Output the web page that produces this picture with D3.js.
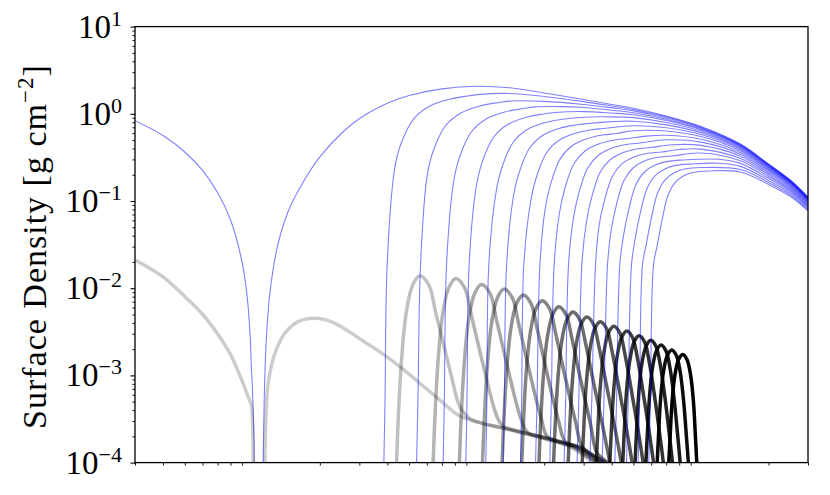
<!DOCTYPE html>
<html><head><meta charset="utf-8">
<script src="https://cdn.jsdelivr.net/npm/d3@7"></script>
<style>body{margin:0;background:#fff}svg{display:block}</style>
</head><body>
<svg id="c" width="830" height="495"></svg>
<script>
// ---- axis data ----
const xDomain=[0.3,300];
const yDomain=[1e-4,10];
const yTickExponents=[-4,-3,-2,-1,0,1];
const yLabelText="Surface Density [g cm";
const yLabelExp="\u22122";

// ---- gas surface density (blue), [radius, sigma] ----
const gas01=[[0.3,0.833],[0.4,0.564],[0.5,0.365],[0.6,0.224],[0.7,0.125],[0.8,0.0605],[0.9,0.020],[0.95,0.0077],[0.98,0.0026],[0.99,0.0013],[1.0,7.8e-4],[1.01,3.5e-4],[1.018,1.8e-4],[1.02,1e-4],null,
 [1.118,1e-4],[1.13,5.2e-4],[1.15,0.00212],[1.2,0.00921],[1.3,0.0316],[1.4,0.0609],[1.5,0.0946],[1.7,0.171],[2,0.320],[2.5,0.598],[3,0.879],[4,1.32],[5,1.62],[7,1.93],[10,2.07],[14,1.99],[20,1.73],[30,1.46],[40,1.28],[50,1.16],[70,0.944],[100,0.715],[150,0.45],[200,0.266],[250,0.174],[300,0.111]];
const gas02=[[3.859,1e-4],[3.905,5.2e-4],[3.992,0.0185],[4.307,0.231],[4.590,0.447],[5.223,0.865],[6.155,1.22],[7.558,1.47],[9.279,1.61],[10.33,1.67],[14,1.71],[20,1.58],[30,1.38],[40,1.23],[50,1.12],[70,0.923],[100,0.703],[150,0.444],[200,0.263],[250,0.172],[300,0.110]];
const gas03=[[5.397,1e-4],[5.475,5.2e-4],[5.623,0.0185],[6.014,0.193],[6.403,0.374],[7.256,0.725],[8.501,1.02],[10.36,1.23],[12.64,1.35],[14.13,1.40],[20,1.39],[30,1.28],[40,1.17],[50,1.08],[70,0.897],[100,0.689],[150,0.437],[200,0.260],[250,0.170],[300,0.109]];
const gas04=[[7.091,1e-4],[7.178,5.2e-4],[7.343,0.0185],[7.890,0.165],[8.393,0.320],[9.470,0.619],[11.03,0.871],[13.35,1.05],[16.17,1.15],[18.16,1.20],[24,1.21],[30,1.18],[40,1.10],[50,1.03],[70,0.868],[100,0.673],[150,0.431],[200,0.256],[250,0.168],[300,0.1076]];
const gas05=[[8.951,1e-4],[9.058,5.2e-4],[9.259,0.0185],[9.945,0.143],[10.57,0.276],[11.87,0.535],[13.75,0.753],[16.51,0.907],[19.87,0.995],[22.41,1.035],[30,1.06],[40,1.02],[50,0.975],[70,0.836],[100,0.656],[150,0.423],[200,0.252],[250,0.166],[300,0.106]];
const gas06=[[10.99,1e-4],[11.11,5.2e-4],[11.33,0.0185],[12.19,0.1235],[12.94,0.239],[14.48,0.463],[16.67,0.652],[19.88,0.784],[23.76,0.860],[26.90,0.895],[32,0.92],[40,0.923],[50,0.903],[70,0.795],[100,0.634],[150,0.413],[200,0.248],[250,0.164],[300,0.105]];
const gas07=[[13.13,1e-4],[13.29,5.2e-4],[13.60,0.0185],[14.54,0.1068],[15.43,0.207],[17.18,0.400],[19.67,0.563],[23.28,0.678],[27.63,0.744],[31.43,0.774],[40,0.813],[50,0.821],[70,0.747],[100,0.608],[150,0.402],[200,0.243],[250,0.161],[300,0.103]];
const gas08=[[15.69,1e-4],[15.88,5.2e-4],[16.23,0.0185],[17.35,0.0936],[18.39,0.181],[20.40,0.351],[23.22,0.494],[27.27,0.594],[32.16,0.652],[36.72,0.678],[50,0.729],[70,0.691],[100,0.579],[150,0.390],[200,0.237],[250,0.158],[300,0.1016]];
const gas09=[[18.31,1e-4],[18.59,5.2e-4],[19.14,0.0185],[20.22,0.0821],[21.41,0.159],[23.64,0.308],[26.76,0.433],[31.20,0.521],[36.54,0.572],[41.91,0.595],[50,0.640],[70,0.635],[100,0.548],[150,0.376],[200,0.231],[250,0.154],[300,0.0997]];
const gas10=[[21.20,1e-4],[21.53,5.2e-4],[22.16,0.0185],[23.38,0.0719],[24.73,0.139],[27.19,0.269],[30.60,0.379],[35.41,0.456],[41.20,0.501],[47.44,0.521],[57,0.555],[70,0.567],[100,0.510],[150,0.360],[200,0.224],[250,0.150],[300,0.0976]];
const gas11=[[24.55,1e-4],[24.94,5.2e-4],[25.68,0.0185],[27.03,0.0639],[28.57,0.124],[31.27,0.239],[34.99,0.337],[40.20,0.406],[46.46,0.445],[53.72,0.463],[70,0.503],[100,0.473],[150,0.344],[200,0.216],[250,0.146],[300,0.0954]];
const gas12=[[28.05,1e-4],[28.53,5.2e-4],[29.44,0.0185],[30.84,0.0567],[32.56,0.110],[35.49,0.212],[39.48,0.299],[45.03,0.360],[51.69,0.395],[60.02,0.411],[75,0.442],[100,0.434],[150,0.327],[200,0.2085],[250,0.142],[300,0.0931]];
const gas13=[[31.95,1e-4],[32.61,5.2e-4],[33.88,0.0185],[35.07,0.0504],[37.00,0.0975],[40.16,0.189],[44.41,0.266],[50.28,0.320],[57.33,0.351],[66.85,0.365],[80,0.389],[100,0.393],[150,0.307],[200,0.200],[250,0.137],[300,0.0905]];
const gas14=[[36.25,1e-4],[36.96,5.2e-4],[38.32,0.0185],[39.73,0.0453],[41.87,0.0876],[45.26,0.170],[49.77,0.239],[55.92,0.287],[63.34,0.315],[74.16,0.328],[100,0.355],[150,0.289],[200,0.191],[250,0.133],[300,0.0880]];
const gas15=[[41.30,1e-4],[42.05,5.2e-4],[43.48,0.0185],[45.20,0.0407],[47.59,0.0788],[51.22,0.153],[55.99,0.215],[62.46,0.258],[70.26,0.283],[82.60,0.295],[120,0.301],[150,0.270],[200,0.182],[250,0.128],[300,0.0853]];
const gas16=[[46.56,1e-4],[47.40,5.2e-4],[49.01,0.0185],[50.88,0.0367],[53.52,0.0710],[57.35,0.1375],[62.34,0.194],[69.03,0.233],[77.13,0.256],[91.07,0.266],[120,0.271],[150,0.2495],[200,0.172],[250,0.1226],[300,0.0824]];
const gas17=[[52.45,1e-4],[53.28,5.2e-4],[54.87,0.0185],[57.23,0.0334],[60.14,0.0646],[64.17,0.125],[69.35,0.176],[76.23,0.212],[84.60,0.233],[100.3,0.242],[150,0.230],[200,0.163],[250,0.1174],[300,0.0795]];
const gas18=[[58.53,1e-4],[59.53,5.2e-4],[61.42,0.0185],[63.77,0.0305],[66.95,0.0590],[71.13,0.114],[76.42,0.161],[83.39,0.194],[91.93,0.212],[109.5,0.221],[150,0.215],[200,0.155],[250,0.113],[300,0.0771]];

// ---- dust surface density (grey), [radius, sigma] ----
const dust01=[[0.3,0.0211],[0.4,0.0135],[0.5,0.00803],[0.6,0.00503],[0.7,0.0030],[0.8,0.00173],[0.9,8.7e-4],[0.95,6.0e-4],[0.99,4.6e-4],[1.0,3.5e-4],[1.009,1e-4],null,
 [1.138,1e-4],[1.150,3.36e-4],[1.177,8.12e-4],[1.261,1.79e-3],[1.397,3.04e-3],[1.601,4.13e-3],[1.934,4.52e-3],[2.334,3.96e-3],[3.070,2.55e-3],[3.704,1.86e-3],[4.548,1.26e-3],[5.583,8.12e-4],[6.855,5.22e-4],[8.416,3.42e-4],[10.33,2.87e-4],[13.13,2.47e-4],[16.12,2.17e-4],[18.49,1.98e-4],[26.02,1.52e-4],[31.95,1.07e-4],[33.30,1e-4]];
const dust02=[[4.395,1e-4],[4.478,3.43e-4],[4.627,0.00151],[4.851,0.00518],[5.186,0.01087],[5.583,0.01391],[6.124,0.01087],[6.578,0.00518],[7.404,0.00151],[7.730,9.66e-4],[8.416,4.38e-4],[9.326,3.20e-4],[10.55,2.83e-4],[13.40,2.47e-4],[16.45,2.17e-4],[18.88,1.98e-4],[26.56,1.52e-4],[32.61,1.07e-4],[33.98,1e-4]];
const dust03=[[6.40,1e-4],[6.52,3.38e-4],[6.73,0.00145],[7.047,0.00490],[7.519,0.01016],[8.078,0.01296],[8.834,0.01016],[9.471,0.00490],[10.60,0.00145],[12.32,3.38e-4],[13.15,2.59e-4],[14.80,2.35e-4],[16.80,2.17e-4],[19.26,1.98e-4],[27.11,1.52e-4],[33.29,1.07e-4],[34.70,1e-4]];
const dust04=[[8.383,1e-4],[8.53,3.24e-4],[8.80,0.00133],[9.204,0.00431],[9.806,0.00874],[10.51,0.01105],[11.47,0.00874],[12.27,0.00431],[13.65,0.00133],[15.72,3.24e-4],[16.91,2.21e-4],[19.66,1.98e-4],[27.67,1.52e-4],[33.98,1.07e-4],[35.41,1e-4]];
const dust05=[[10.62,1e-4],[10.82,3.15e-4],[11.15,0.00124],[11.65,0.00391],[12.38,0.00779],[13.26,0.00979],[14.41,0.00779],[15.39,0.00391],[17.03,0.00124],[19.45,3.15e-4],[20.77,1.96e-4],[28.24,1.52e-4],[34.68,1.07e-4],[36.15,1e-4]];
const dust06=[[12.99,1e-4],[13.22,3.02e-4],[13.62,0.00114],[14.21,0.00345],[15.08,0.00670],[16.12,0.00836],[17.46,0.00670],[18.61,0.00345],[20.46,0.00114],[23.17,3.02e-4],[24.97,1.70e-4],[28.83,1.52e-4],[35.40,1.07e-4],[36.90,1e-4]];
const dust07=[[15.89,1e-4],[16.17,2.91e-4],[16.62,0.00105],[17.34,0.00306],[18.36,0.00581],[19.58,0.00719],[21.15,0.00581],[22.49,0.00306],[24.62,0.00105],[27.62,2.91e-4],[29.74,1.49e-4],[36.14,1.07e-4],[37.66,1e-4]];
const dust08=[[18.97,1e-4],[19.28,2.80e-4],[19.83,9.62e-4],[20.64,0.00269],[21.83,0.00499],[23.24,0.00613],[25.02,0.00499],[26.56,0.00269],[28.89,9.62e-4],[32.14,2.80e-4],[34.34,1.29e-4],[36.88,1.08e-4],[38.43,1e-4]];
const dust09=[[22.03,1e-4],[22.40,2.70e-4],[23.01,8.91e-4],[23.92,0.00241],[25.26,0.00437],[26.84,0.00533],[28.80,0.00437],[30.51,0.00241],[33.02,8.91e-4],[36.39,2.70e-4],[39.26,1e-4]];
const dust10=[[25.59,1e-4],[26.01,2.61e-4],[26.69,8.28e-4],[27.72,0.00217],[29.21,0.00386],[30.98,0.00467],[33.17,0.00386],[35.04,0.00217],[37.71,8.28e-4],[41.21,2.61e-4],[44.16,1e-4]];
const dust11=[[29.55,1e-4],[30.04,2.54e-4],[30.79,7.74e-4],[31.95,0.00196],[33.60,0.00343],[35.59,0.00413],[38.0,0.00343],[40.04,0.00196],[42.85,7.74e-4],[46.42,2.54e-4],[49.36,1e-4]];
const dust12=[[34.16,1e-4],[34.73,2.46e-4],[35.55,7.25e-4],[36.85,0.00178],[38.67,0.00306],[40.87,0.00367],[43.51,0.00306],[45.76,0.00178],[48.71,7.25e-4],[52.29,2.46e-4],[55.26,1e-4]];
const dust13=[[39.26,1e-4],[39.87,2.38e-4],[40.83,6.76e-4],[42.24,0.00161],[44.29,0.00272],[46.70,0.00323],[49.56,0.00272],[52.02,0.00161],[55.03,6.76e-4],[58.59,2.38e-4],[61.49,1e-4]];
const dust14=[[44.82,1e-4],[45.52,2.31e-4],[46.52,6.31e-4],[48.12,0.00146],[50.34,0.00241],[52.99,0.00284],[56.07,0.00241],[58.71,0.00146],[61.80,6.31e-4],[65.19,2.31e-4],[67.98,1e-4]];
const dust15=[[50.85,1e-4],[51.60,2.24e-4],[52.72,5.91e-4],[54.41,0.00132],[56.87,0.00215],[59.74,0.00253],[63.03,0.00215],[65.86,0.00132],[68.89,5.91e-4],[72.08,2.24e-4],[74.64,1e-4]];
const dust16=[[56.82,1e-4],[57.69,2.17e-4],[58.90,5.52e-4],[60.73,0.00120],[63.28,0.00191],[66.41,0.00223],[69.82,0.00191],[72.83,0.00120],[75.81,5.52e-4],[78.59,2.17e-4],[80.78,1e-4]];
const dust17=[[63.80,1e-4],[64.71,2.10e-4],[65.99,5.13e-4],[67.98,0.00108],[70.77,0.00169],[74.11,0.00196],[77.70,0.00169],[80.87,0.00108],[83.66,5.13e-4],[86.00,2.10e-4],[87.88,1e-4]];
const dust18=[[71.86,1e-4],[72.90,2.04e-4],[74.27,4.81e-4],[76.42,9.81e-4],[79.39,0.00151],[82.98,0.00174],[86.70,0.00151],[90.05,9.81e-4],[92.68,4.81e-4],[94.41,2.04e-4],[95.79,1e-4]];

const gasSeries=[gas01,gas02,gas03,gas04,gas05,gas06,gas07,gas08,gas09,gas10,gas11,gas12,gas13,gas14,gas15,gas16,gas17,gas18];
const dustSeries=[dust01,dust02,dust03,dust04,dust05,dust06,dust07,dust08,dust09,dust10,dust11,dust12,dust13,dust14,dust15,dust16,dust17,dust18];

// ---- drawing ----
const svg=d3.select("#c");
const L=135,R=808,T=26.6,B=462.6;
const x=d3.scaleLog().domain(xDomain).range([L,R]);
const y=d3.scaleLog().domain(yDomain).range([B,T]);

svg.append("defs").append("clipPath").attr("id","clip")
  .append("rect").attr("x",L).attr("y",T).attr("width",R-L).attr("height",B-T);

const line=d3.line().defined(d=>d!==null).x(d=>x(d[0])).y(d=>y(d[1])).curve(d3.curveCatmullRom.alpha(0.5));
const plot=svg.append("g").attr("clip-path","url(#clip)");
const n=gasSeries.length;
gasSeries.forEach((gs,i)=>{
  plot.append("path").attr("d",line(gs)).attr("fill","none")
    .attr("stroke","#0000ff").attr("stroke-opacity",0.5).attr("stroke-width",1.1);
  plot.append("path").attr("d",line(dustSeries[i])).attr("fill","none")
    .attr("stroke","#000").attr("stroke-opacity",0.2+0.8*i/(n-1))
    .attr("stroke-width",3.5).attr("stroke-linejoin","round");
});

// ticks
const yMajor=yTickExponents.map(e=>Math.pow(10,e));
const yMinor=[];
for(let e=-4;e<=0;e++){for(let k=2;k<=9;k++){yMinor.push(k*Math.pow(10,e));}}
const xMinor=[];
for(let e=-1;e<=2;e++){for(let k=2;k<=9;k++){const v=k*Math.pow(10,e);if(v>=xDomain[0]*0.999&&v<=xDomain[1]*1.001)xMinor.push(v);}}

function styleAxis(g,w){g.select(".domain").remove();g.selectAll(".tick line").attr("stroke","#000").attr("stroke-width",w);g.selectAll(".tick text").remove();}
svg.append("g").attr("transform",`translate(${L},0)`)
  .call(d3.axisLeft(y).tickValues(yMajor).tickSize(4.5).tickFormat(()=>"")).call(g=>styleAxis(g,1.1));
svg.append("g").attr("transform",`translate(${L},0)`)
  .call(d3.axisLeft(y).tickValues(yMinor).tickSize(2.6).tickFormat(()=>"")).call(g=>styleAxis(g,0.9));
svg.append("g").attr("transform",`translate(0,${B})`)
  .call(d3.axisBottom(x).tickValues(xMinor).tickSize(3).tickFormat(()=>"")).call(g=>styleAxis(g,0.9));

// frame
svg.append("rect").attr("x",L).attr("y",T).attr("width",R-L).attr("height",B-T)
  .attr("fill","none").attr("stroke","#000").attr("stroke-width",1.3);

// y tick labels
const font="'Liberation Serif','Times New Roman',serif";
yTickExponents.forEach(e=>{
  const t=svg.append("text").attr("x",122).attr("y",y(Math.pow(10,e))+11)
    .attr("text-anchor","end").attr("font-family",font).attr("font-size",33).attr("fill","#000");
  t.append("tspan").text("10");
  t.append("tspan").attr("dy",-12).attr("font-size",22).text(e<0?"\u2212"+(-e):String(e));
});

// y axis label
const yl=svg.append("text").attr("transform",`translate(46,${(T+B)/2+2}) rotate(-90)`)
  .attr("text-anchor","middle").attr("font-family",font).attr("font-size",34)
  .attr("letter-spacing",1.0).attr("fill","#000");
yl.append("tspan").text(yLabelText);
yl.append("tspan").attr("dy",-13).attr("font-size",23).text(yLabelExp);
yl.append("tspan").attr("dy",13).text("]");
</script>
</body></html>
